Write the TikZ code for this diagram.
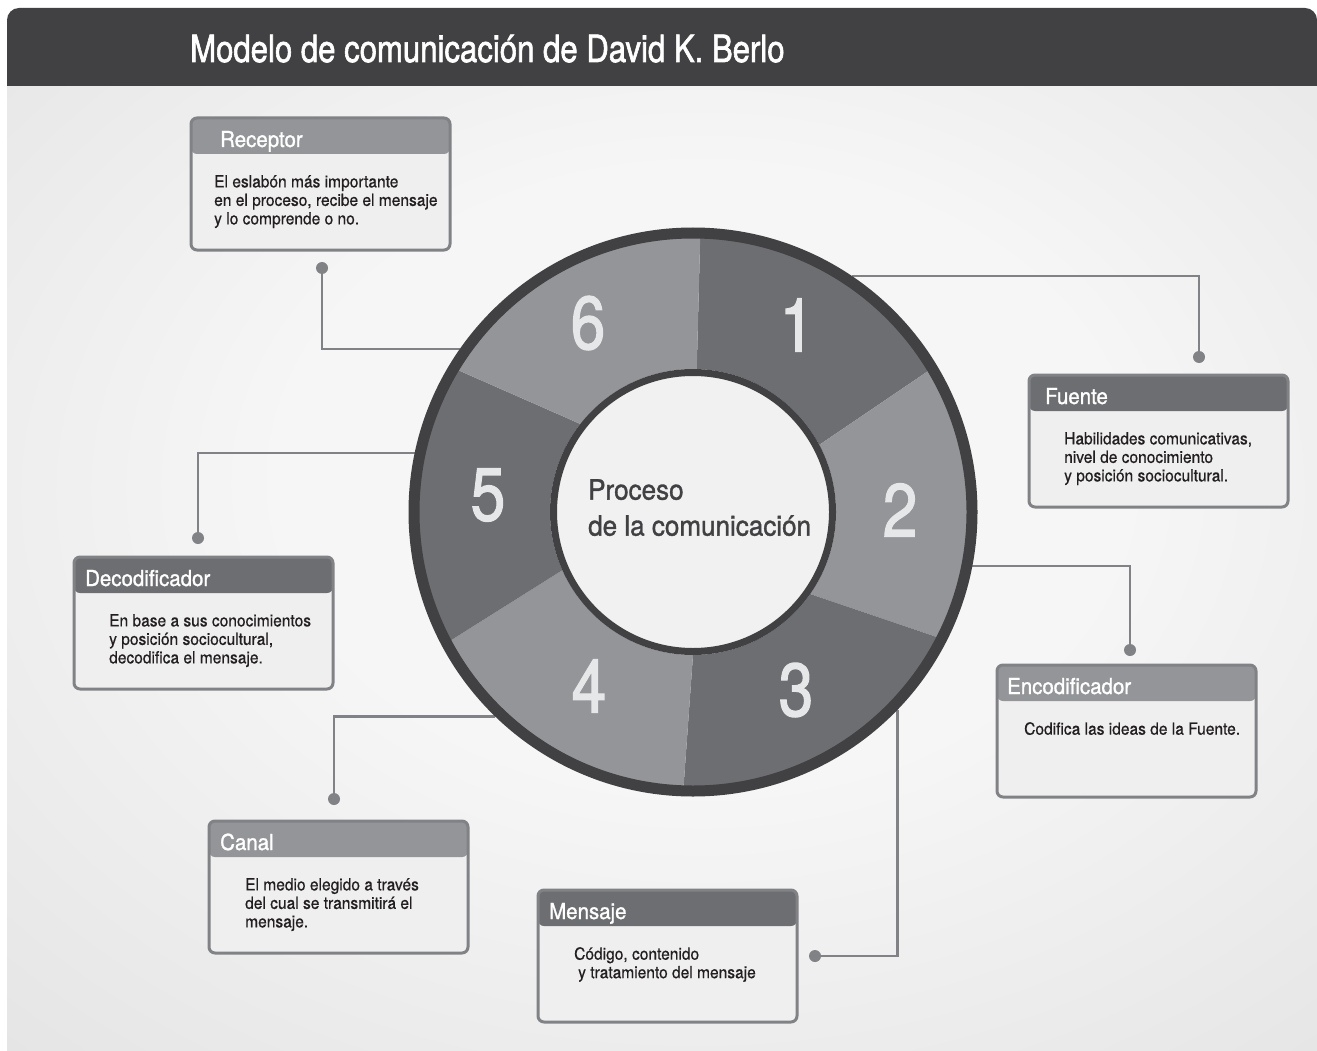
\documentclass[tikz,border=0pt]{standalone}
\usepackage{fontspec}
\setmainfont{TeX Gyre Heros}[FakeStretch=0.93, FakeBold=0.6]
\newfontfamily\condensedFont{TeX Gyre Heros}[FakeStretch=0.83, FakeBold=1.6]
\newfontfamily\mediumFont{TeX Gyre Heros}[FakeStretch=0.93, FakeBold=1.2]
\usetikzlibrary{calc}

% Colores
\definecolor{headerGray}{HTML}{414042}
\definecolor{darkSegment}{HTML}{6D6E71}
\definecolor{lightSegment}{HTML}{939598}
\definecolor{boxBorder}{HTML}{808285}
\definecolor{boxFill}{HTML}{EFEFF0}
\definecolor{numberGray}{HTML}{E6E7E8}
\definecolor{centerFill}{HTML}{F1F1F2}
\definecolor{bodyText}{HTML}{231F20}
\definecolor{panelLight}{HTML}{F6F6F6}
\definecolor{panelMid}{HTML}{E2E2E3}
\definecolor{panelDark}{HTML}{CFD0D2}

% Degradado del fondo
\pgfdeclareradialshading{panelShade}{\pgfpoint{2bp}{6bp}}{color(0bp)=(panelLight); color(16bp)=(panelLight); color(42bp)=(panelMid); color(72bp)=(panelDark)}

\begin{document}
\begin{tikzpicture}[x=1pt,y=-1pt,
  infoBox/.style={draw=boxBorder, line width=3pt, fill=boxFill, rounded corners=6pt,
    minimum width=259pt, minimum height=132pt, anchor=north west, inner sep=0pt, outer sep=0pt,
    path picture={\fill[#1] (path picture bounding box.north west) rectangle ([yshift=-36pt]path picture bounding box.north east);}},
  boxTitle/.style={text=white, inner sep=0pt, font=\mediumFont\fontsize{22}{24}\selectfont},
  boxBody/.style={text=bodyText, inner sep=0pt, align=left, anchor=north west, font=\fontsize{16.7}{18.5}\selectfont},
  dot/.style={circle, fill=boxBorder, minimum size=12pt, inner sep=0pt},
  connector/.style={draw=boxBorder, line width=2.4pt},
  segmentNumber/.style={text=numberGray, inner sep=0pt, font=\condensedFont\fontsize{75}{75}\selectfont}]

  % Parámetros
  \def\outerRadius{279} % radio del anillo exterior
  \def\innerRadius{143} % radio del círculo central

  \useasboundingbox (0,0) rectangle (1317,1051);
  \fill[white] (0,0) rectangle (1317,1051);

  % Fondo y cabecera
  \shade[shading=panelShade] (7,86) rectangle (1317,1051);
  \fill[headerGray] (7,86) [rounded corners=12pt] -- (7,8) -- (1317,8) [sharp corners] -- (1317,86) -- cycle;
  \node[anchor=base west, text=white, inner sep=0pt] (title) at (190,62)
    {\condensedFont\fontsize{37.5}{40}\selectfont Modelo de comunicación de David K. Berlo};

  % Anillo (solo sirve de referencia para los conectores)
  \node[circle, minimum size=569pt, inner sep=0pt, outer sep=0pt] (ring) at (693,512) {};

  % Cajas de texto
  \foreach \boxName/\boxX/\boxY/\headTone/\boxLabel/\titleDx/\textDx/\boxText in {
    receptor/191/118/lightSegment/Receptor/29/23/{El eslabón más importante\\en el proceso, recibe el mensaje\\y lo comprende o no.},
    fuente/1029/375/darkSegment/Fuente/16/35/{Habilidades comunicativas,\\nivel de conocimiento\\y posición sociocultural.},
    encodificador/997/665/lightSegment/Encodificador/10/27/{Codifica las ideas de la Fuente.},
    mensaje/538/890/darkSegment/Mensaje/11/36/{Código, contenido\\\hspace*{4pt}y tratamiento del mensaje},
    canal/209/821/lightSegment/Canal/11/36/{El medio elegido a través\\del cual se transmitirá el\\mensaje.},
    decodificador/74/557/darkSegment/Decodificador/11/35/{En base a sus conocimientos\\y posición sociocultural,\\decodifica el mensaje.}}
  {
    \node[infoBox=\headTone] (\boxName) at (\boxX,\boxY) {};
    \node[boxTitle, anchor=base west] (\boxName-title) at ($(\boxName.north west)+(\titleDx,29)$) {\boxLabel};
    \node[boxBody] (\boxName-text) at ($(\boxName.north west)+(\textDx,57)$) {\boxText};
  }

  % Puntos y conectores
  \node[dot] (receptorDot) at (322,268) {};
  \node[dot] (fuenteDot) at (1199,357) {};
  \node[dot] (encodificadorDot) at (1130,650) {};
  \node[dot] (mensajeDot) at (815,956) {};
  \node[dot] (canalDot) at (334,799) {};
  \node[dot] (decodificadorDot) at (198,538) {};
  \draw[connector] (receptorDot) |- (ring.145);
  \draw[connector] (fuenteDot) |- (ring.56);
  \draw[connector] (encodificadorDot) |- (ring.-11.4);
  \draw[connector] (mensajeDot) -| (ring.-44);
  \draw[connector] (canalDot) |- (ring.226.3);
  \draw[connector] (decodificadorDot) |- (ring.168.6);

  % Segmentos del anillo (ángulos exteriores e interiores)
  \foreach \startOut/\startIn/\endOut/\endIn/\tone in {
    -88.5/-88.5/-31/-28/darkSegment,
    -31/-28/27/35/lightSegment,
    27/35/92/90/darkSegment,
    92/90/152/156/lightSegment,
    152/156/211/218/darkSegment,
    211/218/271.5/271.5/lightSegment}
  {
    \fill[\tone] ($(ring.center)+(\startOut:\outerRadius)$)
      arc[start angle=\startOut, end angle=\endOut, radius=\outerRadius]
      -- ($(ring.center)+(\endIn:\innerRadius)$)
      arc[start angle=\endIn, end angle=\startIn, radius=\innerRadius] -- cycle;
  }
  \draw[headerGray, line width=11pt] (ring.center) circle[radius=\outerRadius];
  \draw[headerGray, line width=7pt, fill=centerFill] (ring.center) circle[radius=\innerRadius-3.5];

  % Números
  \node[segmentNumber] (num1) at (797,325) {1};
  \node[segmentNumber] (num2) at (900,510) {2};
  \node[segmentNumber] (num3) at (796,690) {3};
  \node[segmentNumber] (num4) at (589,686) {4};
  \node[segmentNumber] (num5) at (488,495) {5};
  \node[segmentNumber] (num6) at (588,323) {6};

  % Texto central
  \node[anchor=north west, align=left, inner sep=0pt, text=headerGray,
    font=\mediumFont\fontsize{28}{36}\selectfont] (centerText) at (588,479) {Proceso\\de la comunicación};
\end{tikzpicture}
\end{document}
